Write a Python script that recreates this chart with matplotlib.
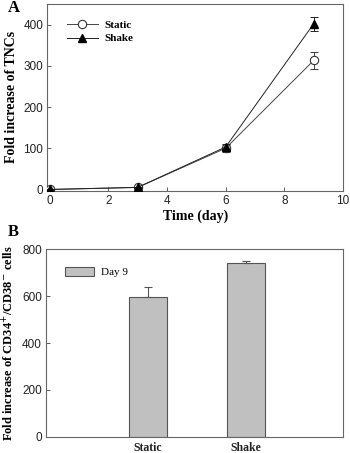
import matplotlib
matplotlib.use("Agg")
import matplotlib.pyplot as plt
from matplotlib.font_manager import FontProperties
from matplotlib.lines import Line2D

# Panel A data
days = [0, 3, 6, 9]
static_vals = [0, 5, 100, 313]
static_err = [2, 2, 8, 20]
shake_vals = [0, 5, 103, 402]
shake_err = [2, 2, 8, 17]

# Panel B data
groups = ["Static", "Shake"]
day9_vals = [595, 740]
day9_err = [45, 8]

serif_b = dict(family="Liberation Serif", weight="bold")
sans = "Liberation Sans"

fig = plt.figure(figsize=(3.5, 4.53), dpi=100)
W, H = 350, 453

def ax_rect(l, t, r, b):
    return [l / W, 1 - b / H, (r - l) / W, (b - t) / H]

# ---------- Panel A ----------
axA = fig.add_axes(ax_rect(47.3, 4, 343, 190.7))
axA.errorbar(days, static_vals, yerr=static_err, color="#444444", lw=0.7,
             marker="o", ms=6, mfc="white", mec="#333333", mew=0.8,
             capsize=3, elinewidth=0.7, capthick=0.7, zorder=3)
axA.errorbar(days, shake_vals, yerr=shake_err, color="#222222", lw=0.7,
             marker="^", ms=6, mfc="black", mec="black",
             capsize=3, elinewidth=0.7, capthick=0.7, zorder=4)
axA.set_xlim(-0.08, 10)
axA.set_ylim(-3, 450)
axA.set_xticks([0, 2, 4, 6, 8, 10])
axA.set_yticks([0, 100, 200, 300, 400])
axA.set_xlabel("Time (day)", fontdict=dict(size=10, **serif_b), labelpad=2)
axA.set_ylabel("Fold increase of TNCs", fontdict=dict(size=10, **serif_b), labelpad=4)
handles = [
    Line2D([], [], color="#444444", lw=0.7, marker="o", ms=6, mfc="white",
           mec="#333333", mew=0.8),
    Line2D([], [], color="#222222", lw=0.7, marker="^", ms=6, mfc="black", mec="black"),
]
axA.legend(handles, ["Static", "Shake"], loc="upper left", bbox_to_anchor=(0.05, 0.935),
           frameon=False,
           prop=FontProperties(family="Liberation Serif", weight="bold", size=8),
           handlelength=2.8, handletextpad=0.6, labelspacing=0.3, borderaxespad=0)

# ---------- Panel B ----------
axB = fig.add_axes(ax_rect(46, 249.3, 343, 436.7))
xpos = [1, 2]
axB.bar(xpos, day9_vals, width=0.385, color="#c0c0c0", edgecolor="#555555",
        linewidth=0.8, label="Day 9", zorder=2)
axB.errorbar(xpos, day9_vals, yerr=[[0, 0], day9_err], fmt="none", ecolor="#555555",
             elinewidth=0.8, capsize=3, capthick=0.8, zorder=3)
axB.set_xlim(-0.03, 2.98)
axB.set_ylim(0, 800)
axB.set_yticks([0, 200, 400, 600, 800])
axB.set_xticks(xpos)
axB.set_xticklabels(groups, fontdict=dict(size=9, **serif_b))
axB.set_ylabel(r"Fold increase of CD34$^{+}$/CD38$^{-}$ cells",
               fontdict=dict(size=9, **serif_b), labelpad=4)
axB.legend(loc="upper left", bbox_to_anchor=(0.05, 0.93), frameon=False,
           prop=FontProperties(family="Liberation Serif", size=8),
           handlelength=2.6, handleheight=0.9, handletextpad=0.6, borderaxespad=0)

for ax in (axA, axB):
    for s in ax.spines.values():
        s.set_color("#666666")
        s.set_linewidth(0.8)
    ax.tick_params(axis="both", direction="in", length=3, width=0.6, color="#444444",
                   labelsize=8.5, labelcolor="#222222", pad=3)
    for lbl in ax.get_yticklabels():
        lbl.set_family(sans)
axB.tick_params(axis="x", length=0, pad=4)
for lbl in axA.get_xticklabels():
    lbl.set_family(sans)

fig.text(8 / W, 1 - 8 / H, "A", fontsize=12, va="center", ha="left", **serif_b)
fig.text(8 / W, 1 - 232 / H, "B", fontsize=12, va="center", ha="left", **serif_b)

fig.savefig("out.png", dpi=100)
